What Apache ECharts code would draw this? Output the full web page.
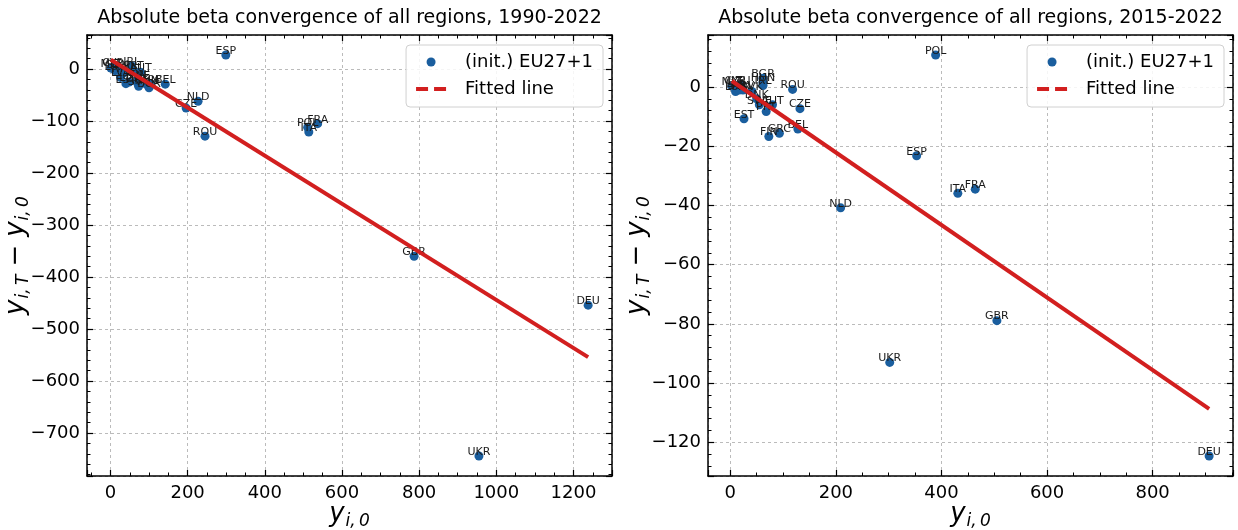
<!DOCTYPE html>
<html><head><meta charset="utf-8">
<script src="https://cdn.jsdelivr.net/npm/echarts@6/dist/echarts.min.js"></script>
<style>html,body{margin:0;padding:0;background:#fff}#c{width:1238px;height:530px}</style>
</head><body><div id="c"></div>
<script>
// ---- data ----
const regions = ['AUT','BEL','BGR','HRV','CYP','CZE','DNK','EST','FIN','FRA','DEU','GRC','HUN','IRL','ITA','LVA','LTU','LUX','MLT','NLD','POL','PRT','ROU','SVK','SVN','ESP','SWE','GBR','UKR'];
// 1990-2022: initial level y_i,0 and change y_i,T - y_i,0
const init1990   = [78, 142, 100, 32, 6, 196, 70, 40, 71, 537, 1238, 104, 94, 55, 514, 26, 48, 12, 1, 227, 511, 60, 245, 73, 18, 299, 71, 787, 955];
const change1990 = [-6, -29, -36, -8, 3, -75, -27, -28, -20, -105, -454, -28, -30, 6, -121, -16, -25, -3, 2, -62, -112, -2, -129, -33, -1, 27, -22, -360, -744];
// 2015-2022
const init2015   = [80, 128, 62, 24, 9, 132, 50, 26, 73, 464, 907, 93, 62, 62, 431, 11, 20, 10, 3, 209, 389, 68, 118, 41, 17, 353, 55, 505, 302];
const change2015 = [-6, -14.2, 3, -1, 0.5, -7.3, -4, -10.7, -16.7, -34.5, -124.6, -15.6, 1.5, 0.5, -35.9, -0.5, 0.8, -1.5, 0.3, -40.8, 10.8, -8.3, -0.8, -1.5, -1, -23.2, -6, -78.9, -93];
// fitted lines: [intercept, slope]
const fit1990 = [18.5, -0.4624];
const fit2015 = [2.4, -0.1225];
const titles = ['Absolute beta convergence of all regions, 1990-2022', 'Absolute beta convergence of all regions, 2015-2022'];
const seriesNames = ['(init.) EU27+1', 'Fitted line'];

// ---- chart ----
const FONT = 'DejaVu Sans';
const BLUE = '#1a5e9e';
const RED = '#d21f1f';
const minus = v => String(v).replace('-', '\u2212');

function range(arr) {
  const mn = Math.min(...arr), mx = Math.max(...arr), m = 0.05 * (mx - mn);
  return [mn - m, mx + m];
}

const grids = [
  {left: 87, top: 35, width: 525, height: 441, outerBoundsMode: 'none', containLabel: false},
  {left: 708, top: 35, width: 525, height: 441, outerBoundsMode: 'none', containLabel: false}
];

const xAxes = [], yAxes = [], series = [];
const nameRich = {
  v: {fontSize: 26, fontStyle: 'italic', fontFamily: FONT, color: '#000', lineHeight: 29, verticalAlign: 'top'},
  s: {fontSize: 17, fontStyle: 'italic', fontFamily: FONT, color: '#000', lineHeight: 17, padding: [15, 0, 0, 1], verticalAlign: 'bottom'},
  n: {fontSize: 26, fontFamily: FONT, color: '#000', lineHeight: 29, verticalAlign: 'top', padding: [0, 8, 0, 8]}
};

function addPanel(g, xs, ys, fit, xSplit, ySplit) {
  const xr = range(xs), yr = range(ys);
  const common = {
    type: 'value', gridIndex: g,
    axisLine: {show: true, onZero: false, lineStyle: {color: '#000', width: 1.5}},
    axisTick: {show: true, inside: true, length: 6, lineStyle: {color: '#000', width: 1.2}},
    minorTick: {show: true, splitNumber: 4, length: 3.5, lineStyle: {color: '#000', width: 1}},
  };
  const lab = {fontSize: 18, color: '#000', fontFamily: FONT, margin: 8, showMinLabel: false, showMaxLabel: false, formatter: minus};
  xAxes.push(Object.assign({}, common, {
    position: 'bottom', min: xr[0], max: xr[1], splitNumber: xSplit,
    axisLabel: lab,
    splitLine: {show: true, lineStyle: {color: '#aaa', type: [3, 3], width: 0.8}},
    name: '{v|y}{s|i,\u20090}', nameLocation: 'middle', nameGap: 25, nameMoveOverlap: false,
    nameTextStyle: {rich: nameRich}
  }));
  xAxes.push(Object.assign({}, common, {
    position: 'top', min: xr[0], max: xr[1], splitNumber: xSplit,
    axisLabel: {show: false}, splitLine: {show: false}
  }));
  yAxes.push(Object.assign({}, common, {
    position: 'left', min: yr[0], max: yr[1], splitNumber: ySplit,
    minorTick: Object.assign({}, common.minorTick, {splitNumber: 5}),
    axisLabel: Object.assign({}, lab, {margin: 7}),
    splitLine: {show: true, lineStyle: {color: '#aaa', type: [3, 3], width: 0.8}},
    name: '{v|y}{s|i,\u2009T}{n|\u2212}{v|y}{s|i,\u20090}', nameLocation: 'middle', nameGap: 55, nameMoveOverlap: false,
    nameTextStyle: {rich: nameRich}
  }));
  yAxes.push(Object.assign({}, common, {
    position: 'right', min: yr[0], max: yr[1], splitNumber: ySplit,
    minorTick: Object.assign({}, common.minorTick, {splitNumber: 5}),
    axisLabel: {show: false}, splitLine: {show: false}
  }));
  const xi = 2 * g, yi = 2 * g;
  series.push({
    name: seriesNames[0], type: 'scatter', xAxisIndex: xi, yAxisIndex: yi, z: 2,
    data: regions.map((r, i) => [xs[i], ys[i], r]),
    symbolSize: 9, itemStyle: {color: BLUE, opacity: 1},
    label: {show: true, position: 'top', distance: -6, formatter: p => p.value[2], fontSize: 11, color: '#1a1a1a', fontFamily: FONT}
  });
  const x0 = Math.min(...xs), x1 = Math.max(...xs);
  series.push({
    name: seriesNames[1], type: 'line', xAxisIndex: xi, yAxisIndex: yi, z: 3,
    data: [[x0, fit[0] + fit[1] * x0], [x1, fit[0] + fit[1] * x1]],
    symbol: 'none', showSymbol: false, lineStyle: {color: RED, width: 4}, itemStyle: {color: RED}
  });
}

addPanel(0, init1990, change1990, fit1990, 7, 8);
addPanel(1, init2015, change2015, fit2015, 5, 7);

function legend(right) {
  return {
    orient: 'vertical', right: right, top: 45,
    padding: [8, 10, 9, 8], itemWidth: 30, itemHeight: 9, itemGap: 9,
    backgroundColor: 'rgba(255,255,255,0.85)', borderColor: '#d0d0d0', borderWidth: 1, borderRadius: 4,
    textStyle: {fontSize: 18, fontFamily: FONT, color: '#000', padding: [0, 0, 0, 14]},
    selectedMode: false,
    data: [
      {name: seriesNames[0], icon: 'circle', itemStyle: {color: BLUE}},
      {name: seriesNames[1], lineStyle: {type: [12, 6], width: 4, color: RED, cap: 'butt'}, itemStyle: {opacity: 0}}
    ]
  };
}

const chart = echarts.init(document.getElementById('c'), null, {renderer: 'canvas'});
chart.setOption({
  animation: false,
  backgroundColor: '#fff',
  grid: grids,
  xAxis: xAxes,
  yAxis: yAxes,
  legend: [legend(635), legend(14)],
  graphic: titles.map((t, i) => ({
    type: 'text', z: 10,
    style: {text: t, x: grids[i].left + grids[i].width / 2, y: 18, align: 'center', verticalAlign: 'middle',
      font: '19px "DejaVu Sans"', fill: '#000'}
  })),
  series: series
});
</script></body></html>
